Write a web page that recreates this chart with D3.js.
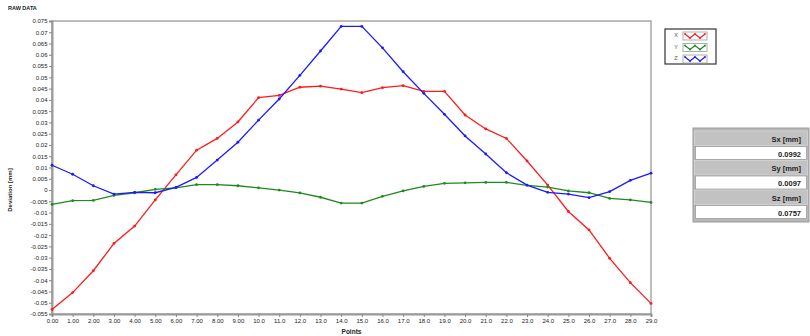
<!DOCTYPE html>
<html lang="en">
  <head>
    <script src="https://d3js.org/d3.v7.min.js"></script>
    <style>
      body {
        margin: 0;
        background: #fff;
      }
      svg text {
        font-family: "Liberation Sans", Arial, sans-serif;
        fill: #222;
      }
      .tick text {
        font-size: 6px;
      }
      .axis .domain {
        stroke: #9a9a9a;
        stroke-width: 2;
      }
      .axis .tick line {
        stroke: #888;
      }
    </style>
  </head>
  <body>
    <svg id="chart" width="810" height="336"></svg>
    <script>
      // data
      const points = d3.range(0, 30);
      const xValues = [
        -0.053, -0.0455, -0.0358, -0.0237, -0.016, -0.0044, 0.0067, 0.0177,
        0.0229, 0.0302, 0.041, 0.042, 0.0456, 0.0461, 0.0448, 0.0432, 0.0454,
        0.0463, 0.0438, 0.0438, 0.0333, 0.0271, 0.0229, 0.0129, 0.0022,
        -0.0095, -0.0177, -0.0303, -0.0411, -0.0503,
      ];
      const yValues = [
        -0.0064, -0.0047, -0.0046, -0.0024, -0.0012, 0.0003, 0.001, 0.0024,
        0.0024, 0.0019, 0.001, 0.0, -0.0013, -0.0032, -0.0058, -0.0058,
        -0.0028, -0.0004, 0.0016, 0.003, 0.0032, 0.0034, 0.0034, 0.0021,
        0.0013, -0.0004, -0.0012, -0.0037, -0.0044, -0.0055,
      ];
      const zValues = [
        0.011, 0.007, 0.0019, -0.0018, -0.001, -0.0012, 0.0012, 0.0056,
        0.0133, 0.0212, 0.031, 0.0404, 0.0509, 0.0617, 0.0726, 0.0726, 0.0631,
        0.0525, 0.0429, 0.0336, 0.024, 0.016, 0.0077, 0.0022, -0.001, -0.0018,
        -0.0034, -0.0007, 0.0043, 0.0075,
      ];
      const seriesNames = ["X", "Y", "Z"];
      const seriesColors = ["#ff1a1a", "#1e8a1e", "#1a1aff"];
      const yTicks = d3.range(-55, 76, 5).map((v) => v / 1000);
      const statLabels = ["Sx [mm]", "Sy [mm]", "Sz [mm]"];
      const statValues = ["0.0992", "0.0097", "0.0757"];

      const svg = d3.select("svg#chart");
      const margin = { top: 21, right: 159, bottom: 22, left: 52 };
      const width = +svg.attr("width");
      const height = +svg.attr("height");

      const xScale = d3
        .scaleLinear()
        .domain([0, 29])
        .range([margin.left, width - margin.right]);
      const yScale = d3
        .scaleLinear()
        .domain([-0.055, 0.075])
        .range([height - margin.bottom, margin.top]);

      // plot frame (top/right)
      svg
        .append("rect")
        .attr("x", xScale(0))
        .attr("y", yScale(0.075))
        .attr("width", xScale(29) - xScale(0))
        .attr("height", yScale(-0.055) - yScale(0.075))
        .attr("fill", "#fff")
        .attr("stroke", "#a8a8a8")
        .attr("stroke-width", 1.5);

      const fmtY = (d) => {
        if (Math.abs(d) < 1e-9) return "0";
        return d.toFixed(3).replace(/0+$/, "").replace(/\.$/, "");
      };

      svg
        .append("g")
        .attr("class", "axis")
        .attr("transform", `translate(${margin.left},0)`)
        .call(
          d3.axisLeft(yScale).tickValues(yTicks).tickSize(3).tickPadding(1.5).tickFormat(fmtY)
        );

      svg
        .append("g")
        .attr("class", "axis")
        .attr("transform", `translate(0,${height - margin.bottom})`)
        .call(
          d3
            .axisBottom(xScale)
            .tickValues(points)
            .tickSize(3)
            .tickPadding(2)
            .tickFormat((d) => (d < 10 ? d.toFixed(2) : d.toFixed(1)))
        );

      // labels
      svg
        .append("text")
        .attr("x", 8)
        .attr("y", 10)
        .style("font-size", "5.5px")
        .style("font-weight", "bold")
        .text("RAW DATA");

      svg
        .append("text")
        .attr("transform", `translate(12,${yScale(0)}) rotate(-90)`)
        .attr("text-anchor", "middle")
        .style("font-size", "6px")
        .style("font-weight", "bold")
        .text("Deviation [mm]");

      svg
        .append("text")
        .attr("x", (xScale(0) + xScale(29)) / 2)
        .attr("y", 334)
        .attr("text-anchor", "middle")
        .style("font-size", "6.5px")
        .style("font-weight", "bold")
        .text("Points");

      // series
      const allSeries = [xValues, yValues, zValues];
      const line = d3
        .line()
        .x((d, i) => xScale(points[i]))
        .y((d) => yScale(d));

      allSeries.forEach((vals, s) => {
        svg
          .append("path")
          .datum(vals)
          .attr("d", line)
          .attr("fill", "none")
          .attr("stroke", seriesColors[s])
          .attr("stroke-width", 1.3);
        svg
          .append("g")
          .selectAll("circle")
          .data(vals)
          .join("circle")
          .attr("cx", (d, i) => xScale(points[i]))
          .attr("cy", (d) => yScale(d))
          .attr("r", 1.4)
          .attr("fill", seriesColors[s]);
      });

      // legend
      const legend = svg.append("g").attr("transform", "translate(665,29)");
      legend
        .append("rect")
        .attr("width", 51)
        .attr("height", 35)
        .attr("fill", "#fff")
        .attr("stroke", "#333")
        .attr("stroke-width", 1.2);
      const wave = [
        [0, 2],
        [5, 6],
        [10, 2],
        [15, 6],
        [20, 2],
      ];
      seriesNames.forEach((name, i) => {
        const g = legend.append("g").attr("transform", `translate(0,${3 + i * 11.5})`);
        g.append("text")
          .attr("x", 11)
          .attr("y", 5)
          .attr("text-anchor", "middle")
          .style("font-size", "5.5px")
          .style("fill", "#555")
          .text(name);
        g.append("rect")
          .attr("x", 18)
          .attr("y", 0)
          .attr("width", 24)
          .attr("height", 8)
          .attr("fill", "#fff")
          .attr("stroke", "#999")
          .attr("stroke-width", 0.8);
        g.append("path")
          .attr("d", d3.line()(wave))
          .attr("transform", "translate(20,0)")
          .attr("fill", "none")
          .attr("stroke", seriesColors[i])
          .attr("stroke-width", 1.2);
        g.selectAll("circle")
          .data(wave)
          .join("circle")
          .attr("cx", (d) => 20 + d[0])
          .attr("cy", (d) => d[1])
          .attr("r", 0.9)
          .attr("fill", seriesColors[i]);
      });

      // stats panel
      const panel = svg.append("g").attr("transform", "translate(693,128)");
      panel
        .append("rect")
        .attr("width", 116)
        .attr("height", 94)
        .attr("fill", "#b8b8b8")
        .attr("stroke", "#999");
      statLabels.forEach((lab, i) => {
        const y0 = 3 + i * 29.5;
        panel
          .append("rect")
          .attr("x", 1.5)
          .attr("y", y0)
          .attr("width", 113)
          .attr("height", 14.5)
          .attr("fill", "#c2c2c2")
          .attr("stroke", "#dcdcdc")
          .attr("stroke-width", 0.6);
        panel
          .append("text")
          .attr("x", 108)
          .attr("y", y0 + 10.5)
          .attr("text-anchor", "end")
          .style("font-size", "7.5px")
          .style("font-weight", "bold")
          .text(lab);
        panel
          .append("rect")
          .attr("x", 2.5)
          .attr("y", y0 + 15.5)
          .attr("width", 111)
          .attr("height", 13)
          .attr("fill", "#fff")
          .attr("stroke", "#888")
          .attr("stroke-width", 0.6);
        panel
          .append("text")
          .attr("x", 108)
          .attr("y", y0 + 25.5)
          .attr("text-anchor", "end")
          .style("font-size", "7.5px")
          .style("font-weight", "bold")
          .text(statValues[i]);
      });
    </script>
  </body>
</html>
